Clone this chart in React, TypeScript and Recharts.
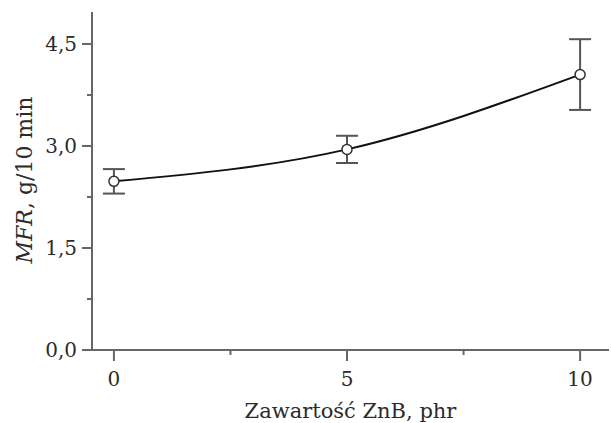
import React from "react";
import { LineChart, Line, XAxis, YAxis, ErrorBar } from "recharts";

const znbContent = [0, 5, 10];
const mfrValues = [2.48, 2.95, 4.05];
const mfrErrors = [0.18, 0.2, 0.52];
const xTicks = [0, 2.5, 5, 7.5, 10];
const yTicks = [0, 0.75, 1.5, 2.25, 3.0, 3.75, 4.5];

const data = znbContent.map((x, i) => ({ x, mfr: mfrValues[i], err: mfrErrors[i] }));

const FONT = "'DejaVu Serif', serif";
const TEXT = "#2b2b2b";
const AXIS = "#666";

const fmt = (v: number) => v.toFixed(1).replace(".", ",");

const YTick = (props: any) => {
    const { x, y, payload } = props;
    const v = payload.value;
    const major = Math.abs(v / 1.5 - Math.round(v / 1.5)) < 1e-6;
    return (
        <g>
            <line x1={major ? x + 5 : x + 10} x2={x + 15} y1={y} y2={y} stroke={AXIS} strokeWidth={2} />
            {major && (
                <text x={x} y={y} dy="0.35em" textAnchor="end" fontFamily={FONT} fontSize={20} fill={TEXT}>
                    {fmt(v)}
                </text>
            )}
        </g>
    );
};

const XTick = (props: any) => {
    const { x, y, payload } = props;
    const v = payload.value;
    const major = v % 5 === 0;
    const axisY = y - 22;
    return (
        <g>
            <line x1={x} x2={x} y1={axisY} y2={axisY + (major ? 11 : 5)} stroke={AXIS} strokeWidth={2} />
            {major && (
                <text x={x} y={y} dy="0.71em" textAnchor="middle" fontFamily={FONT} fontSize={20} fill={TEXT}>
                    {v}
                </text>
            )}
        </g>
    );
};

const YLabel = () => (
    <text
        x={32}
        y={180}
        transform="rotate(-90 32 180)"
        textAnchor="middle"
        fontFamily={FONT}
        fontSize={22}
        fill={TEXT}
    >
        <tspan fontStyle="italic">MFR</tspan>
        <tspan>, g/10 min</tspan>
    </text>
);

export default function App() {
    return (
        <div style={{ position: "absolute", left: 0, top: 0, background: "#fff" }}>
            <LineChart width={611} height={423} data={data} margin={{ top: 12, right: 2, bottom: 0, left: 0 }}>
                <XAxis
                    xAxisId="b"
                    dataKey="x"
                    type="number"
                    domain={[-0.47, 10.62]}
                    ticks={xTicks}
                    height={73}
                    tickSize={10}
                    tickMargin={12}
                    tickLine={false}
                    axisLine={{ stroke: AXIS, strokeWidth: 2 }}
                    tick={<XTick />}
                    label={{
                        value: "Zawartość ZnB, phr",
                        position: "insideBottom",
                        offset: 5,
                        fontFamily: FONT,
                        fontSize: 21,
                        fill: TEXT,
                    }}
                />
                <XAxis
                    xAxisId="t"
                    orientation="top"
                    type="number"
                    dataKey="x"
                    domain={[-0.47, 10.62]}
                    height={0}
                    tick={false}
                    tickLine={false}
                    axisLine={{ stroke: "#888", strokeWidth: 2 }}
                />
                <YAxis
                    yAxisId="l"
                    type="number"
                    domain={[0, 4.97]}
                    ticks={yTicks}
                    width={92}
                    tickSize={10}
                    tickMargin={5}
                    tickLine={false}
                    interval={0}
                    axisLine={{ stroke: AXIS, strokeWidth: 2 }}
                    tick={<YTick />}
                    label={{ content: <YLabel /> }}
                />
                <YAxis
                    yAxisId="r"
                    orientation="right"
                    type="number"
                    domain={[0, 4.97]}
                    width={0}
                    tick={false}
                    tickLine={false}
                    axisLine={{ stroke: "#888", strokeWidth: 2 }}
                />
                <Line
                    xAxisId="b"
                    yAxisId="l"
                    dataKey="mfr"
                    type="monotone"
                    stroke="#111"
                    strokeWidth={2}
                    dot={{ r: 5, fill: "#fff", stroke: "#333", strokeWidth: 1.5 }}
                    isAnimationActive={false}
                >
                    <ErrorBar dataKey="err" direction="y" width={11} stroke="#555" strokeWidth={2} />
                </Line>
            </LineChart>
        </div>
    );
}
